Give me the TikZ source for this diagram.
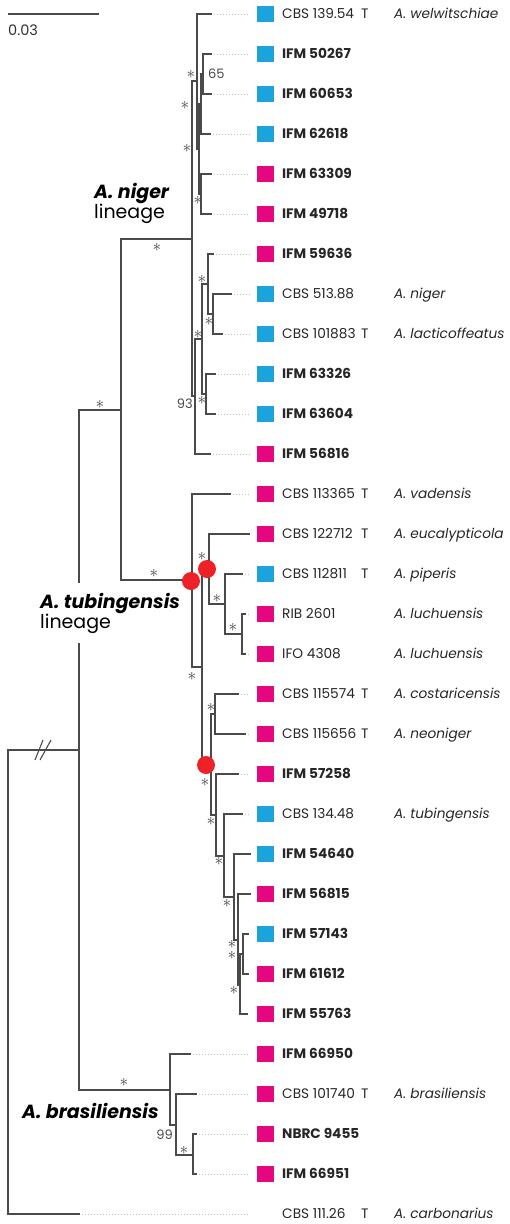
\documentclass[tikz,border=0pt]{standalone}
\usepackage{fontspec}
\setmainfont{Poppins}

\definecolor{treegray}{HTML}{4A4A4A}
\definecolor{dotgray}{HTML}{BDBDBD}
\definecolor{blu}{HTML}{1BA3DC}
\definecolor{mag}{HTML}{E4077F}
\definecolor{hubred}{HTML}{EE2127}

\begin{document}
\begin{tikzpicture}[x = 1pt, y = -1pt,
	branch/.style = {draw = treegray, line width = 1.1pt, line cap = rect},
	leaderline/.style = {draw = dotgray, line width = 0.9pt, dash pattern = on 1.2pt off 1.8pt},
	sq/.style = {rectangle, minimum width = 17pt, minimum height = 16pt, inner sep = 0},
	strain/.style = {anchor = west, inner sep = 0, text height = 9.6pt, text depth = 0pt,
		text = black!85, font = \fontsize{13.7}{15}\selectfont},
	species/.style = {strain, font = \fontsize{13.7}{15}\selectfont\itshape},
	support/.style = {inner sep = 0, text = treegray, font = \fontsize{13}{15}\selectfont},
	ast/.style = {inner sep = 0, text = black!75, font = \fontsize{17}{19}\selectfont},
	hub/.style = {circle, fill = hubred, minimum size = 18pt, inner sep = 0},
	clade/.style = {inner sep = 0, align = left, text = black, font = \fontsize{19}{20}\selectfont}]

	\useasboundingbox (0, 0) rectangle (509, 1224);

	% Scale bar

	\coordinate (barL) at (8, 14);
	\coordinate (barR) at (99, 14);
	\draw [branch, line cap = butt] (barL) -- (barR);
	\node [support, anchor = west, text = black!80, font = \fontsize{14.5}{16}\selectfont] (barlab) at (8, 30) {0.03};

	% Taxa: rows, tips, squares and labels

	\foreach \y/\tip/\col/\strain/\tmark/\spec [count = \i] in {
		14/211/blu/CBS 139.54/T/A. welwitschiae,
		54/211/blu/\textbf{IFM 50267}//,
		94/211/blu/\textbf{IFM 60653}//,
		134/210/blu/\textbf{IFM 62618}//,
		174/211/mag/\textbf{IFM 63309}//,
		214/211/mag/\textbf{IFM 49718}//,
		254/213/mag/\textbf{IFM 59636}//,
		294/231/blu/CBS 513.88//A. niger,
		334/222/blu/CBS 101883/T/A. lacticoffeatus,
		374/215/blu/\textbf{IFM 63326}//,
		414/215/blu/\textbf{IFM 63604}//,
		454/210/mag/\textbf{IFM 56816}//,
		494/230/mag/CBS 113365/T/A. vadensis,
		534/249/mag/CBS 122712/T/A. eucalypticola,
		574/242/blu/CBS 112811/T/A. piperis,
		614/245/mag/RIB 2601//A. luchuensis,
		654/245/mag/IFO 4308//A. luchuensis,
		694/238/mag/CBS 115574/T/A. costaricensis,
		734/245/mag/CBS 115656/T/A. neoniger,
		774/238/mag/\textbf{IFM 57258}//,
		814/242/blu/CBS 134.48//A. tubingensis,
		854/250/blu/\textbf{IFM 54640}//,
		894/250/mag/\textbf{IFM 56815}//,
		934/248/blu/\textbf{IFM 57143}//,
		974/248/mag/\textbf{IFM 61612}//,
		1014/247/mag/\textbf{IFM 55763}//,
		1054/190/mag/\textbf{IFM 66950}//,
		1094/196/mag/CBS 101740/T/A. brasiliensis,
		1134/196/mag/\textbf{NBRC 9455}//,
		1174/196/mag/\textbf{IFM 66951}//,
		1214/79/none/CBS 111.26/T/A. carbonarius}
	{
		\coordinate (t\i) at (\tip, \y);
		\coordinate (d\i) at (250, \y);
		\draw [leaderline] (t\i) -- (d\i);
		\node [sq, fill = \col] (sq\i) at (265.5, \y) {};
		\node [strain] (st\i) at (282, \y) {\strain};
		\node [strain] (tm\i) at (361, \y) {\tmark};
		\node [species] (sp\i) at (394, \y) {\spec};
	}

	% Internal nodes

	\coordinate (root) at (8, 982);
	\coordinate (ingroup) at (79, 750);
	\coordinate (nt) at (121, 410);
	% niger lineage
	\coordinate (ng) at (192, 239);
	\coordinate (ng1) at (197, 81);
	\coordinate (ng2) at (199, 149);
	\coordinate (ng3) at (201, 104);
	\coordinate (ng4) at (203, 74);
	\coordinate (ng5) at (201, 194);
	\coordinate (ng6) at (195, 396);
	\coordinate (ng7) at (202, 339);
	\coordinate (ng8) at (208, 284);
	\coordinate (ng9) at (213, 314);
	\coordinate (ng10) at (206, 394);
	% tubingensis lineage
	\coordinate (tb) at (192, 580);
	\coordinate (tb1) at (202, 667);
	\coordinate (tb2) at (209, 569);
	\coordinate (tb3) at (225, 604);
	\coordinate (tb4) at (242, 634);
	\coordinate (tb5) at (211, 765);
	\coordinate (tb6) at (215, 714);
	\coordinate (tb7) at (216, 815);
	\coordinate (tb8) at (224, 856);
	\coordinate (tb9) at (234, 897);
	\coordinate (tb10) at (238, 940);
	\coordinate (tb11) at (240, 985);
	\coordinate (tb12) at (243, 954);
	% brasiliensis
	\coordinate (br) at (170, 1090);
	\coordinate (br1) at (176, 1125);
	\coordinate (br2) at (193, 1155);

	% Branches

	\foreach \p/\c in {root/ingroup, root/t31, ingroup/nt, ingroup/br,
		nt/ng, nt/tb,
		ng/ng1, ng/ng6, ng1/t1, ng1/ng2, ng2/ng3, ng2/ng5, ng3/ng4, ng3/t4,
		ng4/t2, ng4/t3, ng5/t5, ng5/t6, ng6/ng7, ng6/t12, ng7/ng8, ng7/ng10,
		ng8/t7, ng8/ng9, ng9/t8, ng9/t9, ng10/t10, ng10/t11,
		tb/t13, tb/tb1, tb1/tb2, tb1/tb5, tb2/t14, tb2/tb3, tb3/t15, tb3/tb4,
		tb4/t16, tb4/t17, tb5/tb6, tb5/tb7, tb6/t18, tb6/t19, tb7/t20, tb7/tb8,
		tb8/t21, tb8/tb9, tb9/t22, tb9/tb10, tb10/t23, tb10/tb11,
		tb11/tb12, tb11/t26, tb12/t24, tb12/t25,
		br/t27, br/br1, br1/t28, br1/br2, br2/t29, br2/t30}
		\draw [branch] (\p) |- (\c);

	% Break on the long branch

	\draw [branch, line cap = butt] (35, 760) -- (43, 740);
	\draw [branch, line cap = butt] (40, 760) -- (51, 740);

	% Nodes marked in red

	\node [hub] (hub1) at (191, 581) {};
	\node [hub] (hub2) at (207, 569) {};
	\node [hub] (hub3) at (206, 765) {};

	% Support values

	\foreach \x/\y [count = \i] in {100/404, 157/247, 154/573, 124/1082,
		191/74, 185/105, 187/148, 198/200, 202/279, 209/321, 198/334, 202/400,
		202/556, 217/598, 233/627, 192/676, 211/707, 205/782, 211/821,
		219/861, 227/903, 234/990, 184/1150}
		\node [ast] (ast\i) at (\x, \y) {$\ast$};
	\node [ast, align = center, font = \fontsize{17}{11}\selectfont] (astpair) at (232, 950) {$\ast$\\$\ast$};

	\node [support, anchor = west] (bs65) at (208, 74) {65};
	\node [support, anchor = east] (bs93) at (193, 404) {93};
	\node [support, anchor = east] (bs99) at (173, 1135) {99};

	% Lineage labels

	\node [clade, anchor = west] (nigerlab) at (94, 203) {\textbf{\textit{A. niger}}\\lineage};
	\node [clade, anchor = west, fill = white, inner ysep = 10pt] (tublab) at (40, 613) {\textbf{\textit{A. tubingensis}}\\lineage};
	\node [clade, anchor = west] (braslab) at (22, 1111) {\textbf{\textit{A. brasiliensis}}};

\end{tikzpicture}
\end{document}
